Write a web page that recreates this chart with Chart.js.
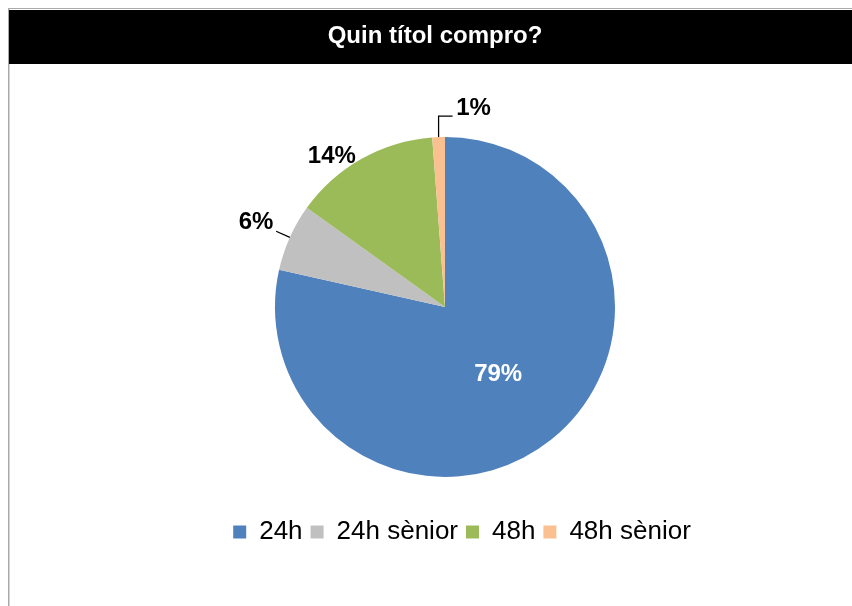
<!DOCTYPE html>
<html>
<head>
<meta charset="utf-8">
<script src="https://cdn.jsdelivr.net/npm/chart.js@4.4.0/dist/chart.umd.min.js"></script>
<style>
  html, body { margin: 0; padding: 0; background: #fff; overflow: hidden; }
  #contenidor { position: relative; width: 890px; height: 606px; }
</style>
</head>
<body>
<div id="contenidor"><canvas id="grafica-titols" width="890" height="606"></canvas></div>
<script>
//------- Dades del grafic
var titol = 'Quin títol compro?';
var categories = ['24h', '24h sènior', '48h', '48h sènior'];
var percentatges = [78.5, 6.4, 13.9, 1.2];
var colors = ['#4F81BD', '#C0C0C0', '#9BBB59', '#FAC090'];

var fontFamilia = '"Liberation Sans", Arial, sans-serif';

// fons blanc, vora grisa i banda negra del titol
var fons = {
    id: 'fons',
    beforeDraw(chart, args, opts) {
        var ctx = chart.ctx;
        ctx.save();
        ctx.fillStyle = '#fff';
        ctx.fillRect(0, 0, chart.width, chart.height);
        ctx.fillStyle = '#a9a9a9';
        ctx.fillRect(8, 8, chart.width, 1);
        ctx.fillRect(8, 8, 1.5, chart.height);
        var t = chart.titleBlock;
        ctx.fillStyle = '#000';
        ctx.fillRect(chart.options.layout.padding.left, t.top, chart.width, opts.alturaBanda);
        ctx.restore();
    }
};

// etiquetes de percentatge sobre i fora de les porcions
var etiquetes = {
    id: 'etiquetes',
    afterDatasetsDraw(chart, args, opts) {
        var ctx = chart.ctx;
        var meta = chart.getDatasetMeta(0);
        var valors = chart.data.datasets[0].data;
        ctx.save();
        ctx.font = 'bold 24px ' + fontFamilia;
        ctx.textBaseline = 'middle';
        ctx.textAlign = 'center';
        ctx.strokeStyle = '#000';
        ctx.lineWidth = 1.25;
        meta.data.forEach(function(arc, i) {
            var p = arc.getProps(['x', 'y', 'startAngle', 'endAngle', 'outerRadius'], true);
            var mig = (p.startAngle + p.endAngle) / 2;
            var cx = Math.cos(mig), cy = Math.sin(mig);
            var r = p.outerRadius;
            var pos = opts.posicions[i];
            var lx, ly;
            ctx.fillStyle = '#000';
            if (pos.dins) {
                lx = p.x + cx * r * pos.dins;
                ly = p.y + cy * r * pos.dins + 1;
                ctx.fillStyle = '#fff';
            } else if (pos.colze) {
                var ex = p.x + cx * r, ey = p.y + cy * r;
                ctx.beginPath();
                ctx.moveTo(ex, ey);
                ctx.lineTo(ex, ey - pos.colze[0]);
                ctx.lineTo(ex + pos.colze[1], ey - pos.colze[0]);
                ctx.stroke();
                lx = ex + pos.despl[0];
                ly = ey + pos.despl[1];
            } else {
                var d = pos.despl || [0, 0];
                lx = p.x + cx * (r + pos.fora) + d[0];
                ly = p.y + cy * (r + pos.fora) + d[1];
                if (pos.guia) {
                    ctx.beginPath();
                    ctx.moveTo(p.x + cx * (r + pos.guia[0]), p.y + cy * (r + pos.guia[0]));
                    ctx.lineTo(p.x + cx * (r + pos.guia[1]), p.y + cy * (r + pos.guia[1]));
                    ctx.stroke();
                }
            }
            ctx.fillText(Math.round(valors[i]) + '%', lx, ly);
        });
        ctx.restore();
    }
};

// la llegenda i el titol de l'original no queden centrats amb el pastis
var moureCaixes = {
    id: 'moureCaixes',
    afterLayout(chart, args, opts) {
        chart.legend.left += opts.llegenda[0];
        chart.legend.right += opts.llegenda[0];
        chart.legend.top += opts.llegenda[1];
        chart.legend.bottom += opts.llegenda[1];
        chart.titleBlock.left += opts.titol;
        chart.titleBlock.right += opts.titol;
    }
};

var canvas = document.getElementById('grafica-titols').getContext('2d');
var grafica = new Chart(canvas, {
    type: 'pie',
    data: {
        labels: categories,
        datasets: [{
            data: percentatges,
            backgroundColor: colors,
            borderWidth: 0,
            hoverOffset: 0,
            radius: 170
        }]
    },
    options: {
        responsive: false,
        animation: false,
        devicePixelRatio: 1,
        layout: { padding: { top: 10, left: 9, right: 9, bottom: 53 } },
        plugins: {
            title: {
                display: true,
                text: titol,
                color: '#fff',
                font: { size: 24, weight: 'bold', family: fontFamilia },
                padding: { top: 12, bottom: 54 }
            },
            legend: {
                position: 'bottom',
                labels: {
                    boxWidth: 13,
                    boxHeight: 13,
                    padding: 8,
                    color: '#000',
                    font: { size: 26, family: fontFamilia }
                }
            },
            tooltip: { enabled: false },
            fons: { alturaBanda: 54 },
            moureCaixes: { llegenda: [17, 2], titol: -10 },
            etiquetes: {
                posicions: [
                    { dins: 0.5 },
                    { fora: 37, guia: [0, 15] },
                    { fora: 16, despl: [-22, 12] },
                    { colze: [21, 14], despl: [35, -28.5] }
                ]
            }
        }
    },
    plugins: [fons, etiquetes, moureCaixes]
});
</script>
</body>
</html>
